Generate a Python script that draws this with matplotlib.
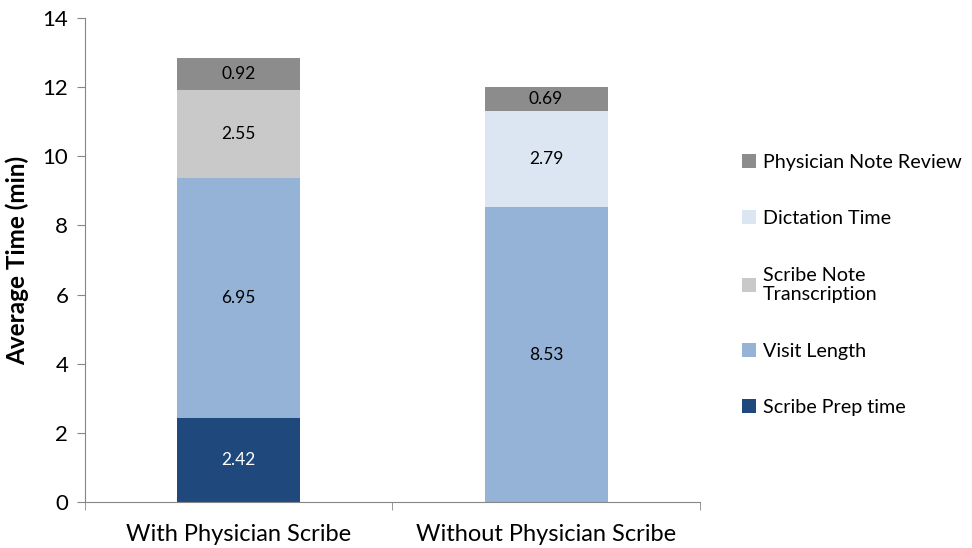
import matplotlib
matplotlib.use("Agg")
import matplotlib.pyplot as plt
import numpy as np

plt.rcParams['font.family'] = ['Lato', 'DejaVu Sans']

categories = ["With Physician Scribe", "Without Physician Scribe"]
series_names = ["Scribe Prep time", "Visit Length", "Scribe Note\nTranscription",
                "Dictation Time", "Physician Note Review"]
scribe_prep = [2.42, 0.0]
visit_length = [6.95, 8.53]
scribe_note = [2.55, 0.0]
dictation = [0.0, 2.79]
note_review = [0.92, 0.69]
colors = ["#1f497d", "#95b3d7", "#c9c9c9", "#dce6f2", "#8c8c8c"]
label_colors = ["white", "black", "black", "black", "black"]

series = [scribe_prep, visit_length, scribe_note, dictation, note_review]

fig = plt.figure(figsize=(9.72, 5.48), dpi=100)
ax = fig.add_axes([0.0874, 0.0839, 0.6326, 0.8833])

x = np.arange(len(categories))
bottom = np.zeros(len(categories))
handles = []
for vals, name, col, lc in zip(series, series_names, colors, label_colors):
    vals = np.array(vals)
    b = ax.bar(x, vals, 0.4, bottom=bottom, color=col, label=name)
    handles.append(b)
    for xi, v, bt in zip(x, vals, bottom):
        if v > 0:
            ax.text(xi, bt + v / 2, f"{v:.2f}", ha="center", va="center",
                    fontsize=12.5, color=lc)
    bottom += vals

ax.set_xlim(-0.5, 1.5)
ax.set_ylim(0, 14)
ax.set_yticks(np.arange(0, 15, 2))
ax.set_xticks([0, 1])
ax.set_xticklabels(categories, fontsize=17)
ax.set_xticks([-0.5, 0.5, 1.5], minor=True)
ax.tick_params(axis="x", which="major", length=0, pad=16)
ax.tick_params(axis="x", which="minor", length=6, color="#868686", direction="out")
ax.tick_params(axis="y", labelsize=16, length=6, color="#868686", direction="out", pad=6)
for s in ["top", "right"]:
    ax.spines[s].set_visible(False)
for s in ["left", "bottom"]:
    ax.spines[s].set_color("#868686")
ax.set_ylabel("Average Time (min)", fontsize=17.5, fontweight="bold", labelpad=10)

leg = fig.legend(handles[::-1], series_names[::-1], loc="upper left",
                 bbox_to_anchor=(0.745, 0.752), frameon=False, fontsize=14.2,
                 handlelength=0.7, handleheight=0.7, handletextpad=0.35,
                 labelspacing=2.0)

fig.savefig("out.png", dpi=100)
